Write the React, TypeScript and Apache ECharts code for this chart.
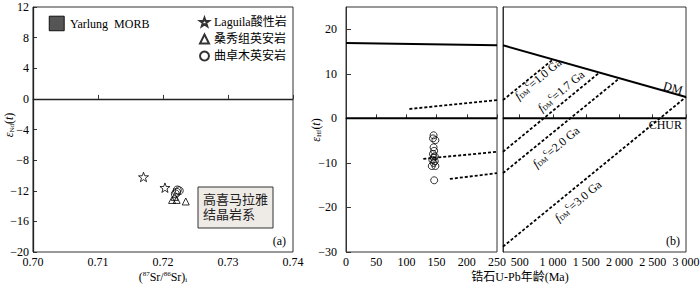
import React, { useEffect, useRef } from 'react';
import * as echarts from 'echarts';

// ---------- panel (a): Sr-Nd ----------
const srXTicks = [0.70, 0.71, 0.72, 0.73, 0.74];
const ndYTicks = [-20, -16, -12, -8, -4, 0, 4, 8, 12];
const laguilaStar = [[0.7170, -10.2], [0.7203, -11.6]];
const sangxiuTri = [[0.7214, -13.2], [0.7218, -12.8], [0.7221, -13.2], [0.7235, -13.4]];
const quzhuomuCircle = [[0.7222, -11.9], [0.7225, -12.0], [0.7219, -12.4], [0.7221, -12.2]];
const morbSr = [0.7025, 0.7048];
const morbNd = [8.9, 10.8];
const refSr = 0.7048;
const refNd = 0;
const legendNames = ['Laguila酸性岩', '桑秀组英安岩', '曲卓木英安岩'];

// ---------- panel (b): zircon Hf ----------
const ageTicksYoung = [0, 50, 100, 150, 200, 250];
const ageTicksOld = [500, 1000, 1500, 2000, 2500, 3000];
const hfYTicks = [-30, -20, -10, 0, 10, 20];
const zirconAge = [145, 148, 144, 145, 146, 144, 147, 145, 143, 147, 145, 142, 148, 146];
const zirconHf = [-3.8, -4.9, -4.5, -6.5, -7.3, -8.0, -8.5, -8.8, -9.3, -9.6, -10.0, -10.7, -10.7, -13.9];
const dmYoung = [[0, 16.9], [250, 16.4]];
const dmOld = [[250, 16.4], [3000, 4.8]];
const churYoung = [[0, 0], [250, 0]];
const churOld = [[250, 0], [3000, 0]];
const t10Young = [[105, 2.1], [250, 4.1]];
const t10Old = [[250, 4.1], [1000, 13.2]];
const t17Young = [[128, -9.1], [250, -7.5]];
const t17Old = [[250, -7.5], [1700, 10.3]];
const t20Young = [[172, -13.6], [250, -12.3]];
const t20Old = [[250, -12.3], [2000, 9.0]];
const t30Old = [[250, -28.8], [3000, 4.8]];
const tdmLabels = ['1.0', '1.7', '2.0', '3.0'];

const SERIF = '"Liberation Serif","Times New Roman",serif';
const CJK = '"Liberation Serif","Noto Sans CJK SC",serif';
const STAR = 'path://M500,0 L618,338 L976,345 L690,562 L794,905 L500,700 L206,905 L310,562 L24,345 L382,338 Z';
const hollow = { color: 'rgba(0,0,0,0)', borderColor: '#000', borderWidth: 1 };

const minus = (v: number) => String(v).replace('-', '\u2212');
const thousands = (v: number) =>
  v >= 1000 ? `${Math.floor(v / 1000)} ${String(v % 1000).padStart(3, '0')}` : String(v);

const baseAxis = {
  axisLine: { show: true, lineStyle: { color: '#333', width: 1 } },
  axisTick: { show: true, inside: true, length: 4, lineStyle: { color: '#333' } },
  splitLine: { show: false },
  axisLabel: { color: '#000', fontSize: 12, fontFamily: SERIF, margin: 4 },
};

const TOP = 7;
const H = 245;

export default function App() {
  const ref = useRef<HTMLDivElement>(null);
  useEffect(() => {
    if (!ref.current) return;
    const chart = echarts.init(ref.current, undefined, { renderer: 'svg' });
    const lineSeries = (data: number[][], xi: number, dashed: boolean) => ({
      type: 'line',
      xAxisIndex: xi,
      yAxisIndex: xi,
      data,
      showSymbol: false,
      symbol: 'none',
      silent: true,
      lineStyle: dashed
        ? { color: '#000', width: 1.8, type: [3, 2] }
        : { color: '#000', width: 2 },
    });
    const tdmText = (label: string, x: number, y: number) => ({
      type: 'text',
      x,
      y,
      rotation: 0.7,
      style: {
        text: `{f|f}{s|DM}{p|c}{n|=${label} Ga}`,
        align: 'center',
        verticalAlign: 'middle',
        rich: {
          f: { fontFamily: SERIF, fontStyle: 'italic', fontSize: 12, fill: '#000' },
          s: { fontFamily: SERIF, fontSize: 7, fill: '#000', padding: [6, 0, 0, 0] },
          p: { fontFamily: SERIF, fontSize: 8, fill: '#000', padding: [0, 0, 8, 0] },
          n: { fontFamily: SERIF, fontSize: 12, fill: '#000' },
        },
      },
    });
    const option: any = {
      animation: false,
      backgroundColor: '#fff',
      grid: [
        { left: 33, top: TOP, width: 260, height: H, show: true, borderColor: '#333', borderWidth: 1, outerBoundsMode: 'none' },
        { left: 346, top: TOP, width: 151, height: H, show: true, borderColor: '#333', borderWidth: 1, outerBoundsMode: 'none' },
        { left: 503, top: TOP, width: 183, height: H, show: true, borderColor: '#333', borderWidth: 1, outerBoundsMode: 'none' },
      ],
      xAxis: [
        {
          ...baseAxis, type: 'value', gridIndex: 0, min: srXTicks[0], max: srXTicks[srXTicks.length - 1], interval: 0.01,
          axisLabel: { ...baseAxis.axisLabel, formatter: (v: number) => v.toFixed(2) },
        },
        {
          ...baseAxis, type: 'value', gridIndex: 1, min: ageTicksYoung[0], max: ageTicksYoung[ageTicksYoung.length - 1], interval: 50,
        },
        {
          ...baseAxis, type: 'value', gridIndex: 2, min: 250, max: 3000,
          axisTick: { ...baseAxis.axisTick, customValues: ageTicksOld },
          axisLabel: { ...baseAxis.axisLabel, customValues: ageTicksOld, formatter: (v: number) => thousands(v) },
        },
      ],
      yAxis: [
        {
          ...baseAxis, type: 'value', gridIndex: 0, min: ndYTicks[0], max: ndYTicks[ndYTicks.length - 1], interval: 4,
          axisLabel: { ...baseAxis.axisLabel, formatter: (v: number) => minus(v) },
        },
        {
          ...baseAxis, type: 'value', gridIndex: 1, min: -30, max: 25,
          axisTick: { ...baseAxis.axisTick, length: 5, customValues: hfYTicks },
          axisLabel: { ...baseAxis.axisLabel, margin: 9, customValues: hfYTicks, formatter: (v: number) => minus(v) },
        },
        {
          ...baseAxis, type: 'value', gridIndex: 2, min: -30, max: 25,
          axisTick: { show: false }, axisLabel: { show: false },
        },
      ],
      legend: {
        data: legendNames,
        orient: 'vertical',
        left: 194,
        top: 11,
        itemGap: 5,
        itemWidth: 9,
        itemHeight: 9,
        textStyle: { fontSize: 12, fontFamily: CJK, color: '#000' },
      },
      series: [
        {
          name: legendNames[0], type: 'scatter', xAxisIndex: 0, yAxisIndex: 0, data: laguilaStar,
          symbol: STAR, symbolSize: 10, symbolKeepAspect: true, itemStyle: hollow,
        },
        {
          name: legendNames[1], type: 'scatter', xAxisIndex: 0, yAxisIndex: 0, data: sangxiuTri,
          symbol: 'triangle', symbolSize: 7, itemStyle: hollow,
        },
        {
          name: legendNames[2], type: 'scatter', xAxisIndex: 0, yAxisIndex: 0, data: quzhuomuCircle,
          symbol: 'circle', symbolSize: 8, itemStyle: hollow,
        },
        {
          type: 'scatter', xAxisIndex: 0, yAxisIndex: 0, data: [], silent: true,
          markLine: {
            silent: true, symbol: ['none', 'none'], label: { show: false },
            lineStyle: { color: '#222', width: 1.3, type: 'solid' },
            data: [{ xAxis: refSr }, { yAxis: refNd }],
          },
          markArea: {
            silent: true,
            itemStyle: { color: '#555', borderColor: '#111', borderWidth: 1 },
            data: [[{ coord: [morbSr[0], morbNd[1]] }, { coord: [morbSr[1], morbNd[0]] }]],
          },
        },
        lineSeries(dmYoung, 1, false),
        lineSeries(churYoung, 1, false),
        lineSeries(t10Young, 1, true),
        lineSeries(t17Young, 1, true),
        lineSeries(t20Young, 1, true),
        lineSeries(dmOld, 2, false),
        lineSeries(churOld, 2, false),
        lineSeries(t10Old, 2, true),
        lineSeries(t17Old, 2, true),
        lineSeries(t20Old, 2, true),
        lineSeries(t30Old, 2, true),
        {
          name: '锆石', type: 'scatter', xAxisIndex: 1, yAxisIndex: 1,
          data: zirconAge.map((a, i) => [a, zirconHf[i]]),
          symbol: 'circle', symbolSize: 7, itemStyle: hollow,
        },
      ],
      graphic: [
        {
          type: 'text', x: 70, y: 24,
          style: { text: 'Yarlung  MORB', fontFamily: SERIF, fontSize: 12, fill: '#000', verticalAlign: 'middle' },
        },
        {
          type: 'rect', shape: { x: 198, y: 187, width: 75, height: 41 },
          style: { fill: '#eeeae6', stroke: '#333', lineWidth: 1 },
        },
        {
          type: 'text', x: 203, y: 207,
          style: { text: '高喜马拉雅\n结晶岩系', fontFamily: CJK, fontSize: 13, lineHeight: 15, fill: '#222', verticalAlign: 'middle' },
        },
        {
          type: 'text', x: 286, y: 241,
          style: { text: '(a)', fontFamily: SERIF, fontSize: 12, fill: '#000', align: 'right', verticalAlign: 'middle' },
        },
        {
          type: 'text', x: 680, y: 241,
          style: { text: '(b)', fontFamily: SERIF, fontSize: 12, fill: '#000', align: 'right', verticalAlign: 'middle' },
        },
        {
          type: 'text', x: 9, y: 125, rotation: Math.PI / 2,
          style: {
            text: '{e|ε}{s|Nd}{n|(}{t|t}{n|)}', align: 'center', verticalAlign: 'middle',
            rich: {
              e: { fontFamily: SERIF, fontStyle: 'italic', fontSize: 12, fill: '#000' },
              s: { fontFamily: SERIF, fontSize: 7, fill: '#000', padding: [5, 0, 0, 0] },
              n: { fontFamily: SERIF, fontSize: 12, fill: '#000' },
              t: { fontFamily: SERIF, fontStyle: 'italic', fontSize: 12, fill: '#000' },
            },
          },
        },
        {
          type: 'text', x: 316, y: 130, rotation: Math.PI / 2,
          style: {
            text: '{e|ε}{s|Hf}{n|(}{t|t}{n|)}', align: 'center', verticalAlign: 'middle',
            rich: {
              e: { fontFamily: SERIF, fontStyle: 'italic', fontSize: 12, fill: '#000' },
              s: { fontFamily: SERIF, fontSize: 7, fill: '#000', padding: [5, 0, 0, 0] },
              n: { fontFamily: SERIF, fontSize: 12, fill: '#000' },
              t: { fontFamily: SERIF, fontStyle: 'italic', fontSize: 12, fill: '#000' },
            },
          },
        },
        {
          type: 'text', x: 163, y: 277,
          style: {
            text: '{n|(}{p|87}{n|Sr/}{p|86}{n|Sr)}{s|i}', align: 'center', verticalAlign: 'middle',
            rich: {
              n: { fontFamily: SERIF, fontSize: 12, fill: '#000' },
              p: { fontFamily: SERIF, fontSize: 7, fill: '#000', padding: [0, 0, 6, 0] },
              s: { fontFamily: SERIF, fontSize: 7, fill: '#000', padding: [6, 0, 0, 0] },
            },
          },
        },
        {
          type: 'text', x: 520, y: 277,
          style: { text: '锆石U-Pb年龄(Ma)', fontFamily: CJK, fontSize: 12, fill: '#000', align: 'center', verticalAlign: 'middle' },
        },
        {
          type: 'text', x: 673, y: 88, rotation: -0.28,
          style: { text: 'DM', fontFamily: SERIF, fontSize: 12, fill: '#000', align: 'center', verticalAlign: 'middle' },
        },
        {
          type: 'text', x: 682, y: 125,
          style: { text: 'CHUR', fontFamily: SERIF, fontSize: 12, fill: '#000', align: 'right', verticalAlign: 'middle' },
        },
        tdmText(tdmLabels[0], 538, 79),
        tdmText(tdmLabels[1], 561, 91),
        tdmText(tdmLabels[2], 556, 147),
        tdmText(tdmLabels[3], 578, 201),
      ],
    };
    chart.setOption(option);
    return () => chart.dispose();
  }, []);
  return (
    <div
      ref={ref}
      style={{ position: 'fixed', left: 0, top: 0, width: 700, height: 285, background: '#fff' }}
    />
  );
}
